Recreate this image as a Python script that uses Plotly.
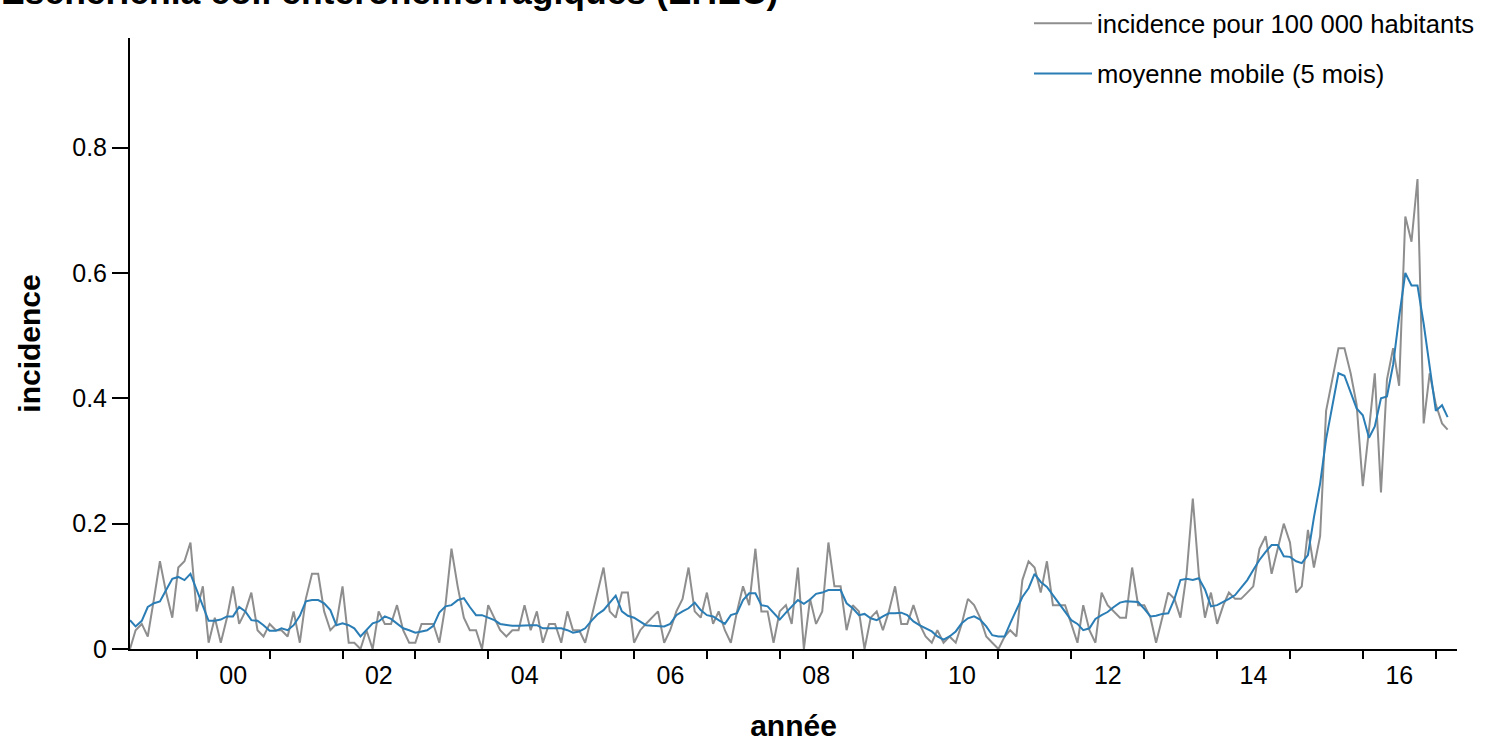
import pandas as pd
import plotly.graph_objects as go

# --- data: monthly incidence per 100 000 inhabitants (Feb 1999 .. Mar 2017) ---
inc_1999 = [0.00, 0.03, 0.04, 0.02, 0.08, 0.14, 0.09, 0.05, 0.13, 0.14, 0.17]
inc_2000 = [0.06, 0.10, 0.01, 0.05, 0.01, 0.05, 0.10, 0.04, 0.06, 0.09, 0.03, 0.02]
inc_2001 = [0.04, 0.03, 0.03, 0.02, 0.06, 0.01, 0.08, 0.12, 0.12, 0.06, 0.03, 0.04]
inc_2002 = [0.10, 0.01, 0.01, 0.00, 0.03, 0.00, 0.06, 0.04, 0.04, 0.07, 0.03, 0.01]
inc_2003 = [0.01, 0.04, 0.04, 0.04, 0.01, 0.07, 0.16, 0.10, 0.05, 0.03, 0.03, 0.00]
inc_2004 = [0.07, 0.05, 0.03, 0.02, 0.03, 0.03, 0.07, 0.03, 0.06, 0.01, 0.04, 0.04]
inc_2005 = [0.01, 0.06, 0.03, 0.03, 0.01, 0.05, 0.09, 0.13, 0.06, 0.05, 0.09, 0.09]
inc_2006 = [0.01, 0.03, 0.04, 0.05, 0.06, 0.01, 0.03, 0.06, 0.08, 0.13, 0.06, 0.05]
inc_2007 = [0.09, 0.04, 0.06, 0.03, 0.01, 0.06, 0.10, 0.07, 0.16, 0.06, 0.06, 0.01]
inc_2008 = [0.06, 0.07, 0.04, 0.13, 0.00, 0.08, 0.04, 0.06, 0.17, 0.10, 0.10, 0.03]
inc_2009 = [0.07, 0.06, 0.00, 0.05, 0.06, 0.03, 0.06, 0.10, 0.04, 0.04, 0.07, 0.04]
inc_2010 = [0.02, 0.01, 0.03, 0.01, 0.02, 0.01, 0.04, 0.08, 0.07, 0.05, 0.02, 0.01]
inc_2011 = [0.00, 0.02, 0.03, 0.02, 0.11, 0.14, 0.13, 0.09, 0.14, 0.07, 0.07, 0.07]
inc_2012 = [0.04, 0.01, 0.07, 0.03, 0.01, 0.09, 0.07, 0.06, 0.05, 0.05, 0.13, 0.07]
inc_2013 = [0.07, 0.05, 0.01, 0.05, 0.09, 0.08, 0.05, 0.12, 0.24, 0.12, 0.05, 0.09]
inc_2014 = [0.04, 0.07, 0.09, 0.08, 0.08, 0.09, 0.10, 0.16, 0.18, 0.12, 0.16, 0.20]
inc_2015 = [0.17, 0.09, 0.10, 0.19, 0.13, 0.18, 0.38, 0.43, 0.48, 0.48, 0.44, 0.39]
inc_2016 = [0.26, 0.35, 0.44, 0.25, 0.43, 0.48, 0.42, 0.69, 0.65, 0.75, 0.36, 0.44]
inc_2017 = [0.39, 0.36, 0.35]

# --- data: 5-month moving average as drawn ---
mm_1999 = [0.046, 0.036, 0.045, 0.067, 0.073, 0.076, 0.094, 0.112, 0.115, 0.110, 0.120]
mm_2000 = [0.094, 0.068, 0.045, 0.045, 0.047, 0.052, 0.052, 0.067, 0.060, 0.046, 0.045, 0.038]
mm_2001 = [0.029, 0.029, 0.033, 0.030, 0.038, 0.053, 0.076, 0.078, 0.078, 0.073, 0.062, 0.038]
mm_2002 = [0.041, 0.038, 0.033, 0.020, 0.030, 0.041, 0.044, 0.052, 0.048, 0.040, 0.033, 0.030]
mm_2003 = [0.026, 0.028, 0.030, 0.037, 0.058, 0.068, 0.070, 0.078, 0.081, 0.067, 0.054, 0.054]
mm_2004 = [0.050, 0.046, 0.040, 0.038, 0.037, 0.037, 0.038, 0.038, 0.038, 0.033, 0.033, 0.033]
mm_2005 = [0.033, 0.030, 0.026, 0.028, 0.033, 0.045, 0.055, 0.062, 0.073, 0.085, 0.060, 0.053]
mm_2006 = [0.050, 0.044, 0.038, 0.037, 0.036, 0.036, 0.040, 0.054, 0.060, 0.065, 0.074, 0.062]
mm_2007 = [0.054, 0.052, 0.046, 0.040, 0.054, 0.057, 0.078, 0.089, 0.089, 0.070, 0.068, 0.057]
mm_2008 = [0.047, 0.058, 0.068, 0.078, 0.072, 0.079, 0.088, 0.090, 0.094, 0.094, 0.094, 0.073]
mm_2009 = [0.065, 0.054, 0.056, 0.049, 0.046, 0.052, 0.057, 0.057, 0.058, 0.054, 0.044, 0.038]
mm_2010 = [0.033, 0.028, 0.020, 0.015, 0.020, 0.028, 0.041, 0.049, 0.052, 0.047, 0.036, 0.022]
mm_2011 = [0.020, 0.020, 0.041, 0.062, 0.083, 0.097, 0.120, 0.107, 0.099, 0.086, 0.073, 0.060]
mm_2012 = [0.046, 0.040, 0.030, 0.033, 0.048, 0.054, 0.059, 0.067, 0.074, 0.076, 0.076, 0.075]
mm_2013 = [0.064, 0.052, 0.053, 0.056, 0.057, 0.080, 0.110, 0.112, 0.110, 0.113, 0.095, 0.068]
mm_2014 = [0.070, 0.075, 0.080, 0.086, 0.097, 0.110, 0.126, 0.142, 0.155, 0.166, 0.166, 0.148]
mm_2015 = [0.147, 0.140, 0.137, 0.150, 0.210, 0.264, 0.335, 0.390, 0.440, 0.436, 0.410, 0.384]
mm_2016 = [0.373, 0.337, 0.355, 0.400, 0.403, 0.454, 0.530, 0.600, 0.580, 0.580, 0.519, 0.454]
mm_2017 = [0.380, 0.389, 0.370]

year_labels = ["00", "02", "04", "06", "08", "10", "12", "14", "16"]
label_years = [2000, 2002, 2004, 2006, 2008, 2010, 2012, 2014, 2016]
y_ticks = [0, 0.2, 0.4, 0.6, 0.8]
y_ticktext = ["0", "0.2", "0.4", "0.6", "0.8"]

incidence = (inc_1999 + inc_2000 + inc_2001 + inc_2002 + inc_2003 + inc_2004 + inc_2005
             + inc_2006 + inc_2007 + inc_2008 + inc_2009 + inc_2010 + inc_2011 + inc_2012
             + inc_2013 + inc_2014 + inc_2015 + inc_2016 + inc_2017)
moyenne = (mm_1999 + mm_2000 + mm_2001 + mm_2002 + mm_2003 + mm_2004 + mm_2005
           + mm_2006 + mm_2007 + mm_2008 + mm_2009 + mm_2010 + mm_2011 + mm_2012
           + mm_2013 + mm_2014 + mm_2015 + mm_2016 + mm_2017)

months = pd.date_range("1999-02-01", periods=len(incidence), freq="MS")
x = [d.strftime("%Y-%m-%d") for d in months]

FONT = "Liberation Sans, Arial, sans-serif"

fig = go.Figure()
fig.add_trace(go.Scatter(
    x=x, y=incidence, mode="lines", name="incidence pour 100 000 habitants",
    line=dict(color="#8e8e8e", width=2), legendgroup="a"))
fig.add_trace(go.Scatter(
    x=x, y=moyenne, mode="lines", name="moyenne mobile (5 mois)",
    line=dict(color="#2a7db5", width=2), legendgroup="b"))

fig.update_layout(
    width=1489, height=742,
    margin=dict(l=130, r=32, t=38, b=93, autoexpand=False),
    paper_bgcolor="white", plot_bgcolor="white",
    font=dict(family=FONT, size=25, color="black"),
    legend=dict(xref="container", yref="container",
                x=1029 / 1489, xanchor="left", y=1 + 6 / 742, yanchor="top",
                font=dict(family=FONT, size=25.6, color="black"),
                bgcolor="rgba(0,0,0,0)", tracegroupgap=14, itemwidth=58),
    showlegend=True,
    annotations=[dict(
        text="<b>Escherichia coli entérohémorragiques (EHEC)</b>",
        xref="paper", yref="paper", x=-131 / 1327, xanchor="left",
        y=(649 - 14) / 611, yanchor="bottom", showarrow=False,
        font=dict(family=FONT, size=35.5, color="black"))],
)

fig.update_xaxes(
    type="date",
    range=["1999-02-01", "2017-04-17"],
    tickmode="array",
    tickvals=[f"{y}-07-02" for y in label_years],
    ticktext=year_labels,
    ticks="",
    ticklabelstandoff=3,
    automargin=False,
    showline=True, linecolor="black", linewidth=2,
    showgrid=False, zeroline=False,
    tickfont=dict(family=FONT, size=25, color="black"),
    minor=dict(tickmode="array",
               tickvals=[f"{y}-01-01" for y in range(2000, 2018)],
               ticks="outside", ticklen=8, tickwidth=2, tickcolor="black",
               showgrid=False),
    title=dict(text="<b>année</b>", font=dict(family=FONT, size=30, color="black"),
               standoff=38),
)

fig.update_yaxes(
    range=[0, 0.975],
    tickmode="array", tickvals=y_ticks, ticktext=y_ticktext,
    ticks="outside", ticklen=16, tickwidth=2, tickcolor="black",
    automargin=False,
    showline=True, linecolor="black", linewidth=2,
    showgrid=False, zeroline=False,
    tickfont=dict(family=FONT, size=25, color="black"),
    title=dict(text="<b>incidence</b>", font=dict(family=FONT, size=30, color="black"),
               standoff=23),
)

fig.write_html("out.html", config={"displayModeBar": False},
               post_script="document.body.style.margin='0px';")
